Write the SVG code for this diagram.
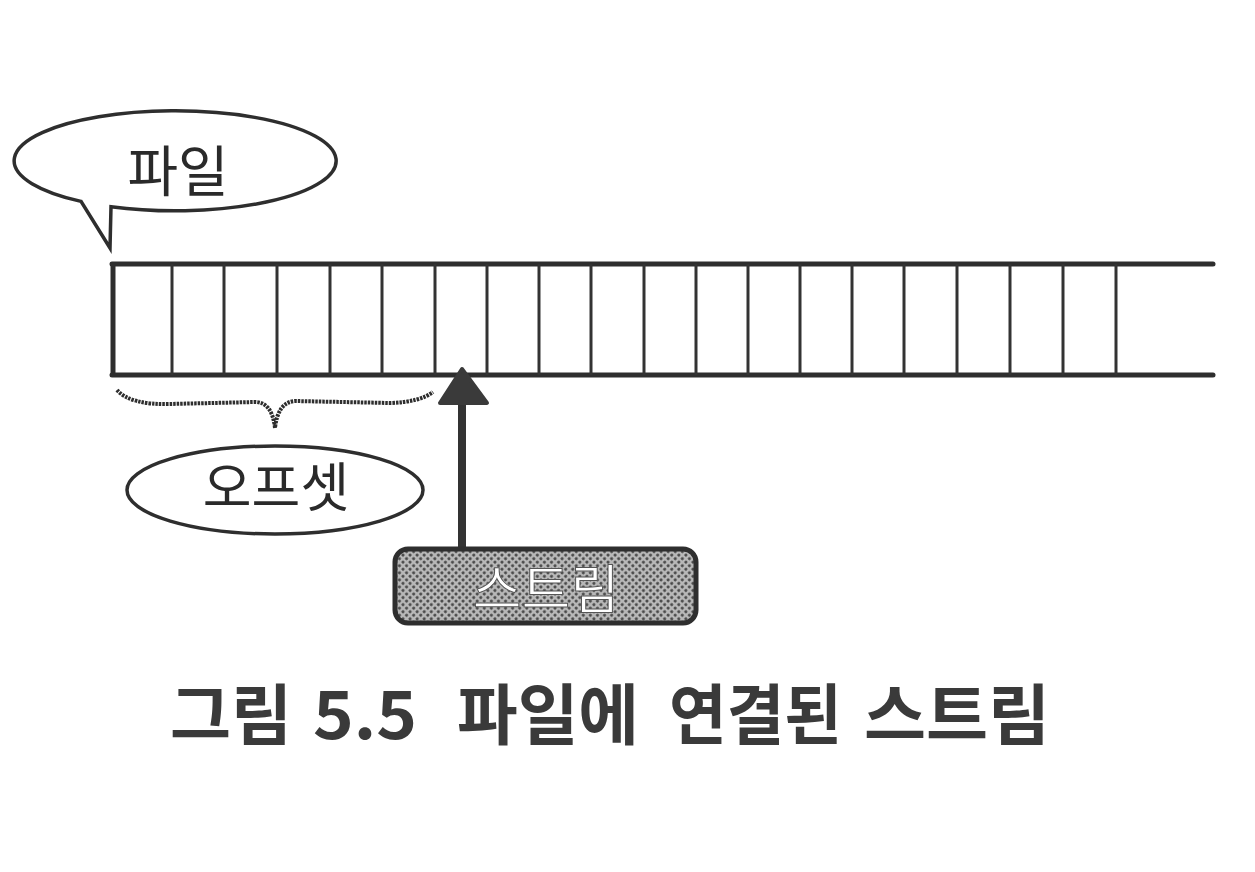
<svg xmlns="http://www.w3.org/2000/svg" width="1255" height="872" viewBox="0 0 1255 872">
  <style>
    .ink { stroke: #2e2e2e; fill: none; }
    .lbl { font-family: "Noto Sans CJK KR", "Noto Sans", sans-serif; fill: #2a2a2a; text-anchor: middle; }
    .cap { font-family: "Noto Sans CJK KR", "Noto Sans", sans-serif; font-size: 66px; font-weight: 700; fill: #3a3a3a; }
    .div { stroke: #333; stroke-width: 3; }
  </style>
  <defs>
    <pattern id="dots" width="5" height="5" patternUnits="userSpaceOnUse" patternTransform="rotate(45)">
      <rect width="5" height="5" fill="#b8b8b8"/>
      <circle cx="2.5" cy="2.5" r="1.5" fill="#444"/>
    </pattern>
  </defs>
  <rect width="1255" height="872" fill="#ffffff"/>

  <g id="file-callout">
    <path class="ink" stroke-width="3.5" fill="#fff" d="M 111 206.7 A 161 50 0 1 0 81 201.4 L 110 248 Z" stroke-linejoin="miter"/>
    <text class="lbl" x="178" y="191" font-size="55">파일</text>
  </g>

  <g id="file-strip">
    <line class="ink" stroke-width="5" x1="112" y1="264" x2="1213" y2="264" stroke-linecap="round"/>
    <line class="ink" stroke-width="5" x1="112" y1="375" x2="1213" y2="375" stroke-linecap="round"/>
    <line class="ink" stroke-width="5" x1="113" y1="262" x2="113" y2="377"/>
    <g class="div">
      <line x1="172" y1="264" x2="172" y2="375"/>
      <line x1="224" y1="264" x2="224" y2="375"/>
      <line x1="277" y1="264" x2="277" y2="375"/>
      <line x1="330" y1="264" x2="330" y2="375"/>
      <line x1="382" y1="264" x2="382" y2="375"/>
      <line x1="435" y1="264" x2="435" y2="375"/>
      <line x1="487" y1="264" x2="487" y2="375"/>
      <line x1="539" y1="264" x2="539" y2="375"/>
      <line x1="591" y1="264" x2="591" y2="375"/>
      <line x1="644" y1="264" x2="644" y2="375"/>
      <line x1="696" y1="264" x2="696" y2="375"/>
      <line x1="748" y1="264" x2="748" y2="375"/>
      <line x1="800" y1="264" x2="800" y2="375"/>
      <line x1="852" y1="264" x2="852" y2="375"/>
      <line x1="904" y1="264" x2="904" y2="375"/>
      <line x1="957" y1="264" x2="957" y2="375"/>
      <line x1="1010" y1="264" x2="1010" y2="375"/>
      <line x1="1063" y1="264" x2="1063" y2="375"/>
      <line x1="1116" y1="264" x2="1116" y2="375"/>
    </g>
  </g>

  <g id="offset-brace">
    <path class="ink" stroke="#3a3a3a" stroke-width="4" stroke-dasharray="2.5 1" d="M 117 390 Q 130 405 170 404 L 255 402 Q 272 402 275 428 Q 278 402 295 401 L 390 403 Q 420 402 433 392"/>
  </g>

  <g id="offset-label">
    <ellipse class="ink" stroke-width="3.5" fill="#fff" cx="275" cy="490" rx="148" ry="44"/>
    <text class="lbl" x="276" y="507" font-size="53">오프셋</text>
  </g>

  <g id="connectors">
    <line x1="462" y1="548" x2="462" y2="398" stroke="#333" stroke-width="8"/>
    <path d="M 462 369 L 487 403 L 440 403 Z" fill="#3a3a3a" stroke="#3a3a3a" stroke-width="4" stroke-linejoin="round"/>
  </g>

  <g id="stream">
    <rect x="395" y="549" width="301" height="74" rx="13" fill="url(#dots)" stroke="#2e2e2e" stroke-width="5"/>
    <text x="546" y="609" font-family="Noto Sans CJK KR, Noto Sans, sans-serif" font-size="53" fill="#ffffff" stroke="#555" stroke-width="1" text-anchor="middle">스트림</text>
  </g>

  <g id="caption">
    <text class="cap" x="170" y="739" textLength="122" lengthAdjust="spacingAndGlyphs">그림</text>
    <text class="cap" x="313" y="739" textLength="104" lengthAdjust="spacingAndGlyphs">5.5</text>
    <text class="cap" x="457" y="739" textLength="182" lengthAdjust="spacingAndGlyphs">파일에</text>
    <text class="cap" x="669" y="739" textLength="173" lengthAdjust="spacingAndGlyphs">연결된</text>
    <text class="cap" x="864" y="739" textLength="186" lengthAdjust="spacingAndGlyphs">스트림</text>
  </g>
</svg>
